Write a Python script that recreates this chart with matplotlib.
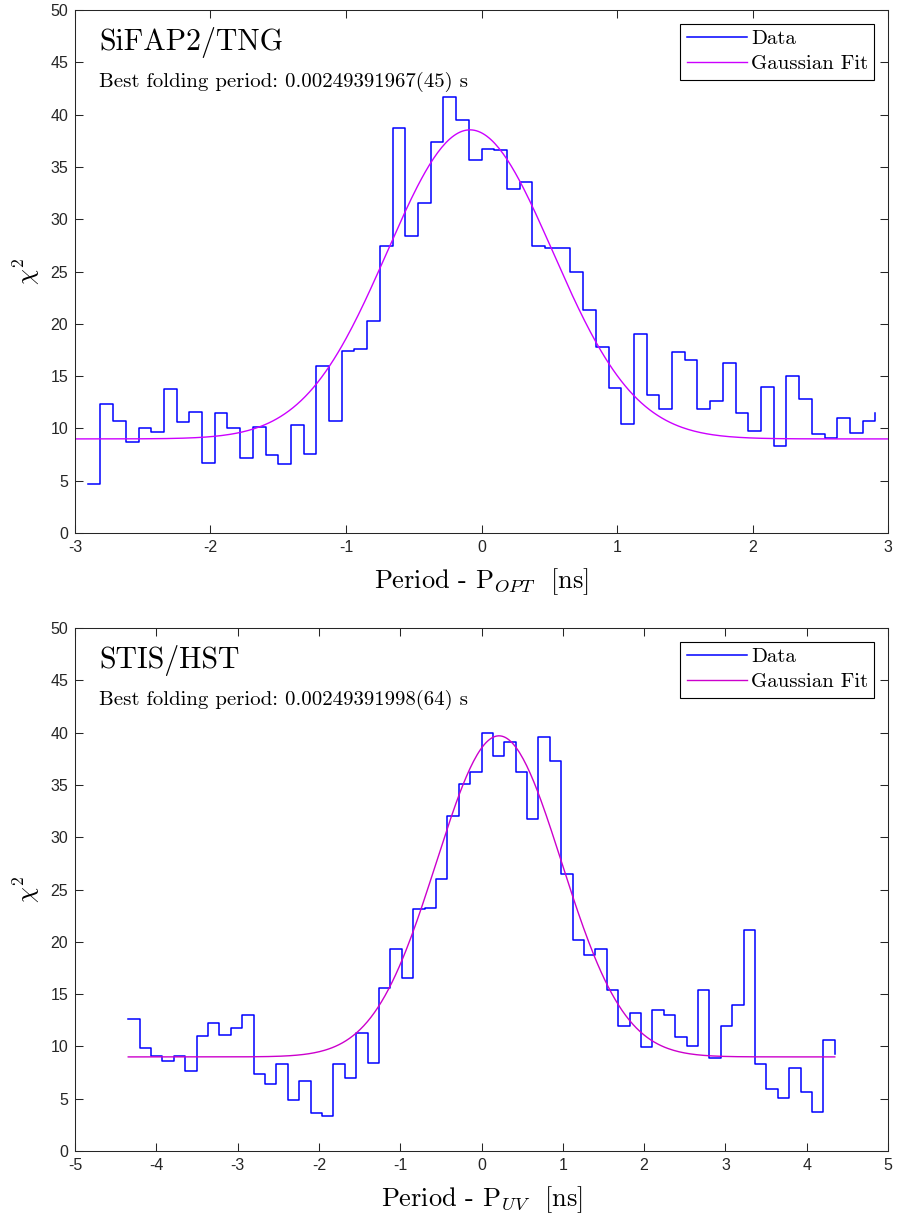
import numpy as np
import matplotlib
matplotlib.use("Agg")
import matplotlib.pyplot as plt

plt.rcParams['mathtext.fontset'] = 'cm'
plt.rcParams['font.family'] = ['Liberation Sans', 'DejaVu Sans']
plt.rcParams['axes.unicode_minus'] = False

# --- SiFAP2/TNG data (chi^2 vs period offset, ns) ---
opt_x = np.linspace(-2.90625, 2.90625, 63)
opt_chi2 = [4.7, 12.3, 10.7, 8.7, 10.0, 9.65, 13.8, 10.6, 11.6, 6.7,
            11.5, 10.0, 7.2, 10.1, 7.5, 6.6, 10.35, 7.55, 16.0, 10.75,
            17.45, 17.6, 20.3, 27.4, 38.7, 28.4, 31.55, 37.4, 41.65, 39.5,
            35.65, 36.75, 36.65, 32.85, 33.6, 27.45, 27.3, 27.25, 24.95, 21.35,
            17.75, 13.9, 10.4, 19.0, 13.2, 11.9, 17.3, 16.5, 11.85, 12.6,
            16.3, 11.45, 9.8, 13.95, 8.35, 15.0, 12.8, 9.45, 9.1, 11.0,
            9.55, 10.7, 11.5]
opt_fit = dict(base=9.0, amp=29.55, mu=-0.085, sigma=0.61)

# --- STIS/HST data ---
uv_x = np.linspace(-4.345, 4.345, 63)
uv_chi2 = [12.6, 9.85, 9.05, 8.6, 9.05, 7.7, 11.0, 12.2, 11.1, 11.75,
           13.05, 7.4, 6.45, 8.3, 4.85, 6.7, 3.65, 3.35, 8.3, 7.0,
           11.3, 8.4, 15.6, 19.3, 16.55, 23.1, 23.25, 26.05, 32.05, 35.05,
           36.2, 40.0, 37.75, 39.1, 36.2, 31.75, 39.6, 37.25, 26.5, 20.2,
           18.7, 19.35, 15.35, 11.95, 13.2, 9.9, 13.5, 13.0, 10.95, 10.05,
           15.4, 8.9, 12.0, 14.0, 21.1, 8.3, 5.9, 5.1, 7.95, 5.6,
           3.7, 10.65, 9.3]
uv_fit = dict(base=9.0, amp=30.7, mu=0.215, sigma=0.77)

panels = [
    dict(x=opt_x, y=opt_chi2, fit=opt_fit, xlim=(-3, 3), fit_range=(-3, 3),
         title='SiFAP2/TNG', best='Best folding period: 0.00249391967(45) s',
         xlabel=r'Period - P$_{OPT}$  [ns]', fitcolor='#CC00FF', rect=[0.0836, 0.5620, 0.9064, 0.4297]),
    dict(x=uv_x, y=uv_chi2, fit=uv_fit, xlim=(-5, 5), fit_range=(-4.345, 4.345),
         title='STIS/HST', best='Best folding period: 0.00249391998(64) s',
         xlabel=r'Period - P$_{UV}$  [ns]', fitcolor='#CC00CC', rect=[0.0836, 0.0542, 0.9064, 0.4297]),
]

fig = plt.figure(figsize=(8.97, 12.17), dpi=100)
axcol = '#262626'

for p in panels:
    ax = fig.add_axes(p['rect'])
    ax.step(p['x'], p['y'], where='post', color='#0000FF', lw=1.1, label='Data')
    f = p['fit']
    xf = np.linspace(p['fit_range'][0], p['fit_range'][1], 400)
    yf = f['base'] + f['amp'] * np.exp(-(xf - f['mu']) ** 2 / (2 * f['sigma'] ** 2))
    ax.plot(xf, yf, color=p['fitcolor'], lw=1.0, label='Gaussian Fit')

    ax.set_xlim(*p['xlim'])
    ax.set_ylim(0, 50)
    ax.set_yticks(np.arange(0, 51, 5))
    ax.set_xticks(np.arange(p['xlim'][0], p['xlim'][1] + 1, 1))
    ax.tick_params(direction='in', length=6, width=0.75, top=True, right=True,
                   labelsize=11.5, colors=axcol, pad=5)
    for s in ax.spines.values():
        s.set_color(axcol)
        s.set_linewidth(0.75)

    ax.set_xlabel(p['xlabel'], family='cmr10', fontsize=19, labelpad=8)
    ax.set_ylabel(r'$\chi^2$', fontsize=18, labelpad=6)

    ax.text(0.0295, 0.9235, p['title'], transform=ax.transAxes, family='cmr10',
            fontsize=21.5, va='baseline', ha='left')
    ax.text(0.0295, 0.853, p['best'], transform=ax.transAxes, family='cmr10',
            fontsize=15, va='baseline', ha='left')

    leg = ax.legend(loc='upper right', prop={'family': 'cmr10', 'size': 15},
                    fancybox=False, framealpha=1, edgecolor='black',
                    borderaxespad=0.65, handlelength=2.9, handletextpad=0.2,
                    borderpad=0.3, labelspacing=0.3)
    leg.get_frame().set_linewidth(0.8)

fig.savefig('out.png', dpi=100)
